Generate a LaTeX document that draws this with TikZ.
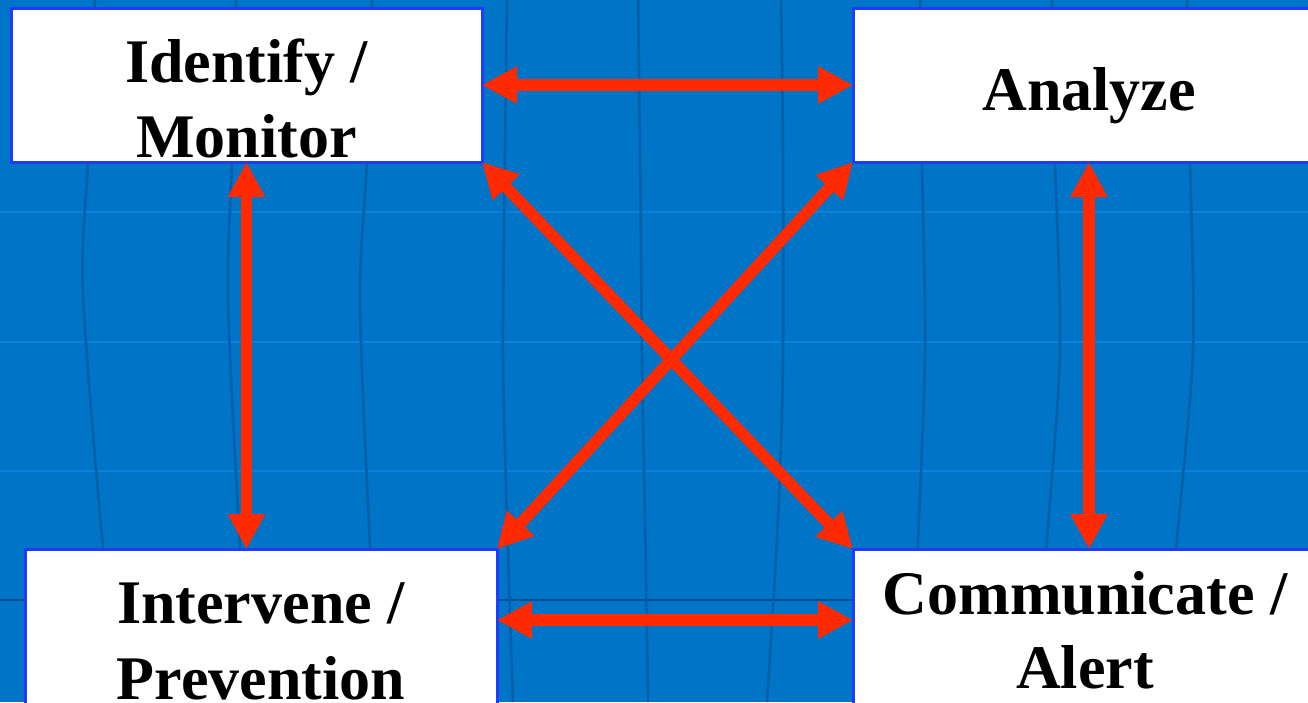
\documentclass[tikz,border=0pt]{standalone}
\usepackage{fontspec}
\setmainfont{Liberation Serif}
\usetikzlibrary{arrows.meta}
\definecolor{bgblue}{HTML}{0074C6}
\definecolor{gridlight}{HTML}{0A82DA}
\definecolor{griddark}{HTML}{005FA8}
\definecolor{gridline}{HTML}{00508F}
\definecolor{boxborder}{HTML}{1E3CFF}
\definecolor{arrowred}{HTML}{FF2A00}
\tikzset{
  stepbox/.style={draw=boxborder, line width=3pt, fill=white, rectangle, inner sep=0pt, outer sep=0pt},
  boxtext/.style={anchor=base, inner sep=0pt, font=\fontsize{62pt}{75pt}\selectfont\bfseries},
  biarrow/.style={draw=arrowred, line width=11.5pt, {Triangle[length=35pt,width=35pt]}-{Triangle[length=35pt,width=35pt]}},
  meridian/.style={griddark, line width=2.5pt},
  parallel/.style={gridlight, line width=2.5pt}
}
\begin{document}
\begin{tikzpicture}[x=1pt,y=-1pt]
\useasboundingbox (0,0) rectangle (1308,702);
\clip (0,0) rectangle (1308,702);
\fill[bgblue] (0,0) rectangle (1308,702);
% globe grid
\foreach \yy in {212,342,471} {\draw[parallel] (0,\yy) -- (1308,\yy);}
\draw[gridline, line width=2.5pt] (0,600) -- (1308,600);
\draw[meridian] plot[smooth] coordinates {(95,0) (88,160) (83,293) (103,548) (120,702)};
\draw[meridian] plot[smooth] coordinates {(236,0) (232,160) (228,300) (240,548) (250,702)};
\draw[meridian] plot[smooth] coordinates {(372,0) (367,160) (360,300) (370,548) (378,702)};
\draw[meridian] plot[smooth] coordinates {(507,0) (505,150) (503,360) (508,550) (513,702)};
\draw[meridian] plot[smooth] coordinates {(638,0) (640,150) (642,360) (645,520) (648,702)};
\draw[meridian] plot[smooth] coordinates {(781,0) (783,150) (783,360) (778,520) (767,702)};
\draw[meridian] plot[smooth] coordinates {(920,0) (922,160) (925,350) (918,540) (910,702)};
\draw[meridian] plot[smooth] coordinates {(1052,0) (1055,160) (1060,350) (1047,540) (1035,702)};
\draw[meridian] plot[smooth] coordinates {(1187,0) (1190,160) (1193,350) (1177,540) (1165,702)};
% boxes
\node[stepbox, minimum width=471pt, minimum height=154pt] (b1) at (246.5,85) {};
\node[stepbox, minimum width=472pt, minimum height=154pt] (b2) at (1089,85) {};
\node[stepbox, minimum width=472pt, minimum height=242pt] (b3) at (261,670) {};
\node[stepbox, minimum width=472pt, minimum height=242pt] (b4) at (1089,670) {};
% texts
\node[boxtext] (t1a) at (246.5,82) {Identify /};
\node[boxtext] (t1b) at (246.5,157) {Monitor};
\node[boxtext] (t2) at (1089,110) {Analyze};
\node[boxtext] (t3a) at (261,623) {Intervene /};
\node[boxtext] (t3b) at (261,699) {Prevention};
\node[boxtext] (t4a) at (1085,614) {Communicate /};
\node[boxtext] (t4b) at (1085,688) {Alert};
% connectors
\draw[biarrow] (b1.east) -- (b2.west);
\draw[biarrow] ([yshift=-71pt]b3.north east) -- ([yshift=-71pt]b4.north west);
\draw[biarrow] (b1.south) -- (b1.south |- b3.north);
\draw[biarrow] (b2.south) -- (b4.north);
\draw[biarrow] (b1.south east) -- (b4.north west);
\draw[biarrow] (b2.south west) -- (b3.north east);
\end{tikzpicture}
\end{document}
